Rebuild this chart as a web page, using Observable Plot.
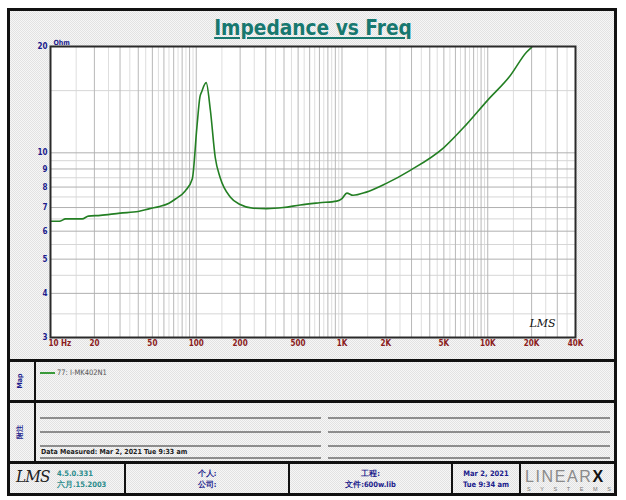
<!DOCTYPE html>
<html>
<head>
<meta charset="utf-8">
<script src="https://cdn.jsdelivr.net/npm/d3@7"></script>
<script src="https://cdn.jsdelivr.net/npm/@observablehq/plot@0.6"></script>
<style>
  html, body { margin: 0; padding: 0; background: #fff; }
  #page { position: relative; width: 626px; height: 500px; overflow: hidden; background: #fff;
          font-family: "Liberation Sans Narrow", "DejaVu Sans Condensed", "Liberation Sans", sans-serif; }
  .abs { position: absolute; }
  .dither { background-color: #ececec;
            background-image: repeating-conic-gradient(#e2e2e2 0% 25%, #f6f6f6 0% 50%);
            background-size: 2px 2px; }
  .hbar { position: absolute; background: #111; }
  .vbar { position: absolute; background: #111; }
  .note { position: absolute; height: 2px; background: #8c8c8c; }
  .t { position: absolute; white-space: nowrap; font-weight: bold; line-height: 1; }
</style>
</head>
<body>
<div id="page">
  <div class="abs dither" style="left:7px;top:8px;width:610px;height:488px;box-sizing:border-box;border:3px solid #111;"></div>
  <div id="chart" class="abs" style="left:0;top:0;"></div>

  <!-- title -->
  <div class="t" id="title" style="left:0;width:626px;top:17px;text-align:center;font-size:22px;color:#17786f;text-decoration:underline;text-decoration-thickness:2px;text-underline-offset:2px;transform:scaleX(0.94);">Impedance vs Freq</div>

  <!-- panel separators -->
  <div class="hbar" style="left:7px;top:359px;width:610px;height:3px;"></div>
  <div class="hbar" style="left:7px;top:400px;width:610px;height:3px;"></div>
  <div class="hbar" style="left:7px;top:461px;width:610px;height:3px;"></div>
  <div class="vbar" style="left:34px;top:361px;width:2px;height:101px;"></div>

  <!-- legend panel -->
  <div class="t" style="left:20px;top:381px;font-size:7px;color:#1c1c8c;transform:translate(-50%,-50%) rotate(-90deg);">Map</div>
  <div class="abs" style="left:40px;top:372px;width:15px;height:2px;background:#3a9a3a;"></div>
  <div class="t" id="legendText" style="left:57px;top:369px;font-size:7.5px;font-weight:normal;color:#555;"></div>

  <!-- notes panel -->
  <div class="t" style="left:20px;top:432px;font-size:7px;color:#1c1c8c;transform:translate(-50%,-50%) rotate(-90deg);">附注</div>
  <div class="note" style="left:40px;top:417px;width:281px;"></div>
  <div class="note" style="left:328px;top:417px;width:282px;"></div>
  <div class="note" style="left:40px;top:431px;width:281px;"></div>
  <div class="note" style="left:328px;top:431px;width:282px;"></div>
  <div class="note" style="left:40px;top:445px;width:281px;"></div>
  <div class="note" style="left:328px;top:445px;width:282px;"></div>
  <div class="note" style="left:40px;top:457px;width:281px;"></div>
  <div class="note" style="left:328px;top:457px;width:282px;"></div>
  <div class="t" id="measured" style="left:41px;top:449px;font-size:7px;color:#222;"></div>

  <!-- footer -->
  <div class="vbar" style="left:124px;top:463px;width:2px;height:32px;"></div>
  <div class="vbar" style="left:288px;top:463px;width:2px;height:32px;"></div>
  <div class="vbar" style="left:451px;top:463px;width:2px;height:32px;"></div>
  <div class="vbar" style="left:519px;top:463px;width:2px;height:32px;"></div>
  <div class="t" style="left:16px;top:468px;font-size:17px;font-weight:normal;font-style:italic;font-family:'DejaVu Serif',serif;color:#222;letter-spacing:-1px;transform:scaleX(0.9);transform-origin:left;">LMS</div>
  <div class="t" id="ver" style="left:57px;top:470px;font-size:7.5px;color:#2a8c8c;"></div>
  <div class="t" id="verDate" style="left:57px;top:481px;font-size:7.5px;color:#2a8c8c;"></div>
  <div class="t" style="left:126px;width:162px;top:470px;text-align:center;font-size:7.5px;color:#1c1c8c;">个人:</div>
  <div class="t" style="left:126px;width:162px;top:481px;text-align:center;font-size:7.5px;color:#1c1c8c;">公司:</div>
  <div class="t" style="left:290px;width:161px;top:470px;text-align:center;font-size:7.5px;color:#1c1c8c;">工程:</div>
  <div class="t" id="fileName" style="left:290px;width:161px;top:481px;text-align:center;font-size:7.5px;color:#1c1c8c;"></div>
  <div class="t" id="stampDate" style="left:453px;width:66px;top:470px;text-align:center;font-size:7.5px;color:#1c1c8c;"></div>
  <div class="t" id="stampTime" style="left:453px;width:66px;top:481px;text-align:center;font-size:7.5px;color:#1c1c8c;"></div>
  <div class="t" style="left:525px;top:469px;font-size:16px;font-weight:normal;font-family:'Liberation Sans',sans-serif;color:#8a8a8a;letter-spacing:1.6px;">LINEAR<span style="color:#111;font-weight:bold;letter-spacing:0;">X</span></div>
  <div class="t" style="left:527px;top:487px;font-size:5.5px;font-weight:normal;font-family:'Liberation Sans',sans-serif;color:#777;letter-spacing:9.6px;">SYSTEMS</div>
</div>

<script>
// Measured impedance curve of the driver
const freqHz = [10, 11.5, 12.7, 16.5, 18.2, 22, 30, 40, 48, 56, 65, 72, 84, 94,
                101, 106, 109, 117, 125, 135, 146, 171, 200, 246, 304, 396, 517,
                700, 920, 1000, 1080, 1190, 1470, 2000, 2940, 5000, 7100, 10000,
                14200, 18500, 20000];
const ohms   = [6.4, 6.4, 6.5, 6.5, 6.62, 6.65, 6.75, 6.82, 6.95, 7.05, 7.2, 7.4, 7.8, 8.45,
                11.8, 14.4, 14.9, 15.8, 13.2, 9.7, 8.5, 7.5, 7.14, 6.97, 6.95, 7.0, 7.12,
                7.22, 7.3, 7.42, 7.69, 7.58, 7.74, 8.18, 8.92, 10.35, 12.0, 14.1,
                16.5, 19.3, 19.9];

// Axis labels
const xTickValues = [20, 50, 100, 200, 500, 1000, 2000, 5000, 10000, 20000, 40000];
const xTickLabels = ["20", "50", "100", "200", "500", "1K", "2K", "5K", "10K", "20K", "40K"];
const xFirstLabel = "10 Hz";
const yTickValues = [3, 4, 5, 6, 7, 8, 9, 10, 20];
const yUnit = "Ohm";

// Grid: full lines at each 1..9 step in a decade, light lines at the half steps
const decades = [10, 100, 1000, 10000];
const xGridMajor = [], xGridMinor = [];
for (const d of decades) {
  for (let m = 1; m <= 9; m++) {
    if (d * m > 10 && d * m < 40000) xGridMajor.push(d * m);
    if (d * (m + 0.5) < 40000) xGridMinor.push(d * (m + 0.5));
  }
}
const yGridMajor = [4, 5, 6, 7, 8, 9, 10];
const yGridMinor = [3.5, 4.5, 5.5, 6.5, 7.5, 8.5, 9.5, 15];

// Panel texts
const legendLabel = "77: I-MK402N1";
const measuredLabel = "Data Measured: Mar 2, 2021  Tue  9:33 am";
const versionLabel = "4.5.0.331";
const versionDate = "六月.15.2003";
const fileLabel = "文件:600w.lib";
const stampDate = "Mar  2, 2021";
const stampTime = "Tue  9:34 am";

const rows = freqHz.map((f, i) => ({f, z: ohms[i]}));
const font = "'Liberation Sans Narrow', 'DejaVu Sans Condensed', 'Liberation Sans', sans-serif";

const chart = Plot.plot({
  width: 626,
  height: 360,
  marginLeft: 50,
  marginRight: 51,
  marginTop: 46,
  marginBottom: 23,
  style: {background: "transparent", fontFamily: font, overflow: "visible"},
  x: {type: "log", domain: [10, 40000], axis: null},
  y: {type: "log", domain: [3, 20]},
  marks: [
    Plot.frame({fill: "white"}),
    Plot.ruleX(xGridMinor, {stroke: "#dedede", strokeWidth: 1}),
    Plot.ruleY(yGridMinor, {stroke: "#d6d6d6", strokeWidth: 1}),
    Plot.ruleX(xGridMajor, {stroke: "#b8b8b8", strokeWidth: 1}),
    Plot.ruleY(yGridMajor, {stroke: "#b0b0b0", strokeWidth: 1}),
    Plot.line(rows, {x: "f", y: "z", stroke: "#237f23", strokeWidth: 1.6, curve: "monotone-x"}),
    Plot.frame({stroke: "#2a2a2a", strokeWidth: 2}),
    Plot.axisY(yTickValues, {tickSize: 0, tickPadding: 3, tickFormat: d => String(d),
      fill: "#1c1c8c", fontWeight: "bold", fontSize: 8, label: null}),
    Plot.text(xTickValues, {x: d => d, text: (d, i) => xTickLabels[i], frameAnchor: "bottom",
      dy: 8, fill: "#8b1c1c", fontWeight: "bold", fontSize: 8}),
    Plot.text([10], {x: d => d, text: [xFirstLabel], frameAnchor: "bottom", textAnchor: "start",
      dx: -2, dy: 8, fill: "#8b1c1c", fontWeight: "bold", fontSize: 8}),
    Plot.text([yUnit], {frameAnchor: "top-left", dx: 3, dy: -6, fill: "#1c1c8c",
      fontWeight: "bold", fontSize: 7}),
    Plot.text(["LMS"], {frameAnchor: "bottom-right", dx: -20, dy: -11, fill: "#111",
      fontStyle: "italic", fontSize: 11, fontFamily: "'DejaVu Serif', serif", letterSpacing: -0.5})
  ]
});
document.getElementById("chart").appendChild(chart);

document.getElementById("legendText").textContent = legendLabel;
document.getElementById("measured").textContent = measuredLabel;
document.getElementById("ver").textContent = versionLabel;
document.getElementById("verDate").textContent = versionDate;
document.getElementById("fileName").textContent = fileLabel;
document.getElementById("stampDate").textContent = stampDate;
document.getElementById("stampTime").textContent = stampTime;
</script>
</body>
</html>
